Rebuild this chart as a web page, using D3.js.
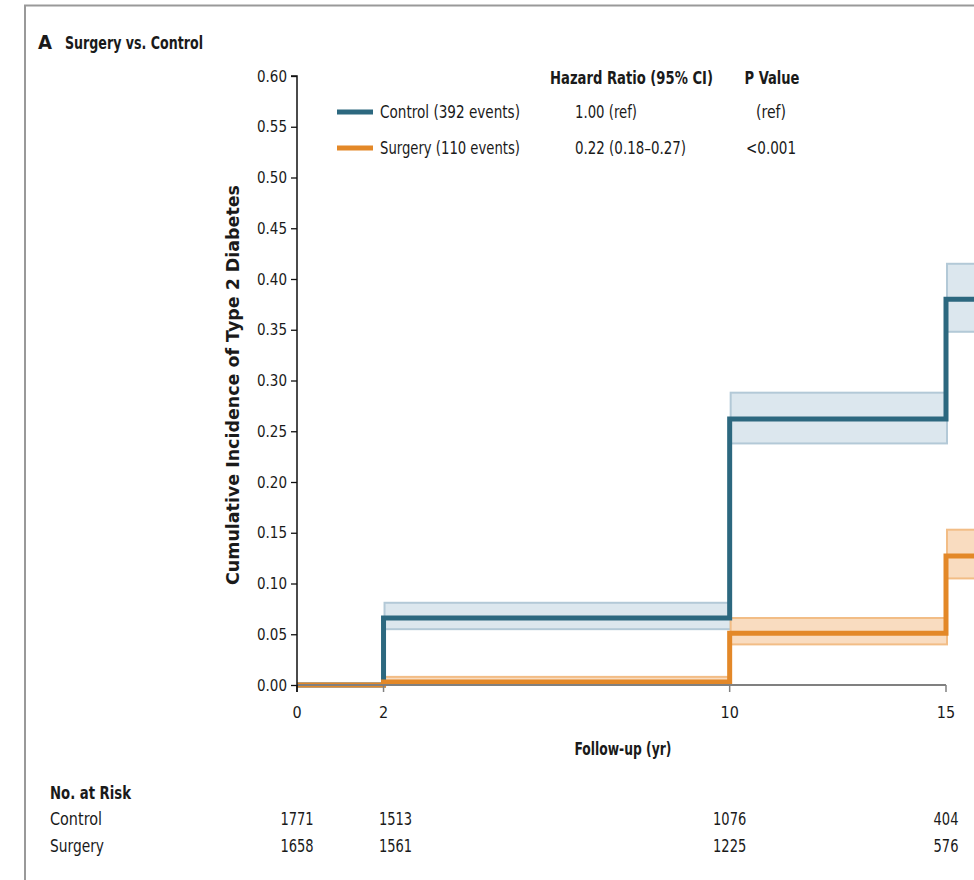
<!DOCTYPE html>
<html>
<head>
<meta charset="utf-8">
<script src="https://cdn.jsdelivr.net/npm/d3@7"></script>
<style>
  body { margin: 0; background: #fff; }
  svg text { font-family: "DejaVu Sans Condensed", "Liberation Sans", sans-serif; fill: #1a1a1a; }
</style>
</head>
<body>
<div id="graph"></div>
<script>
/*******************************************************************************
* Data
*******************************************************************************/
var stepTimes = [0, 2, 10, 15];
var endTime = 15.7;

var controlEst = [0, 0.066, 0.262, 0.380];
var controlLo  = [0, 0.055, 0.238, 0.348];
var controlHi  = [0, 0.081, 0.288, 0.415];

var surgeryEst = [0, 0.003, 0.051, 0.127];
var surgeryLo  = [0, 0.000, 0.040, 0.105];
var surgeryHi  = [0, 0.008, 0.066, 0.153];

var xTicks = [0, 2, 10, 15];
var yTicks = [0, 0.05, 0.10, 0.15, 0.20, 0.25, 0.30, 0.35, 0.40, 0.45, 0.50, 0.55, 0.60];

var riskGroups = ["Control", "Surgery"];
var riskControl = [1771, 1513, 1076, 404];
var riskSurgery = [1658, 1561, 1225, 576];

var legendNames = ["Control (392 events)", "Surgery (110 events)"];
var legendHR = ["1.00 (ref)", "0.22 (0.18\u20130.27)"];
var legendP = ["(ref)", "<0.001"];

/*******************************************************************************
* helpers
*******************************************************************************/
// squeeze a label to the narrow width of the original condensed face
function fit(sel, w) {
  return sel.attr("textLength", w).attr("lengthAdjust", "spacingAndGlyphs");
}
function label(parent, txt, px, py, size, bold, anchor) {
  return parent.append("text").attr("x", px).attr("y", py)
    .attr("text-anchor", anchor || "start")
    .style("font-size", size + "px")
    .style("font-weight", bold ? "bold" : "normal")
    .text(txt);
}

/*******************************************************************************
* Svg Container
*******************************************************************************/
var fullWidth = 974, fullHeight = 880;
var container = d3.select("#graph").append("svg")
  .attr("width", fullWidth)
  .attr("height", fullHeight);

// outer frame (cut at right and bottom)
container.append("path")
  .attr("d", "M25,880V5.5H974")
  .attr("fill", "none")
  .attr("stroke", "#999")
  .attr("stroke-width", 2);

fit(label(container, "A", 38, 49, 19, true), 14);
fit(label(container, "Surgery vs. Control", 65, 49, 18, true), 138);

var x = d3.scaleLinear().domain([0, 15]).range([297, 946]);
var y = d3.scaleLinear().domain([0, 0.6]).range([685, 76]);

var colors = { control: "#2c687f", surgery: "#e38828" };
var bandFill = { control: "#dce7ee", surgery: "#f9dcc0" };
var bandStroke = { control: "#b3c9d7", surgery: "#f2bd86" };

var plot = container.append("g");

/*******************************************************************************
* CI bands
*******************************************************************************/
function bandData(lo, hi) {
  var out = [];
  for (var i = 1; i < stepTimes.length; i++) {
    var t1 = i + 1 < stepTimes.length ? stepTimes[i + 1] : endTime;
    out.push({ t0: stepTimes[i], t1: t1, lo: lo[i], hi: hi[i] });
  }
  return out;
}

function drawBands(key, lo, hi) {
  plot.append("g").selectAll("rect")
    .data(bandData(lo, hi))
    .enter()
    .append("rect")
    .attr("x", function (d) { return x(d.t0) + 1; })
    .attr("y", function (d) { return y(d.hi); })
    .attr("width", function (d) { return x(d.t1) - x(d.t0); })
    .attr("height", function (d) { return Math.max(1, y(d.lo) - y(d.hi)); })
    .style("fill", bandFill[key])
    .style("stroke", bandStroke[key])
    .style("stroke-width", 2);
}
drawBands("control", controlLo, controlHi);
drawBands("surgery", surgeryLo, surgeryHi);

/*******************************************************************************
* axes
*******************************************************************************/
var xAxisG = container.append("g").attr("transform", "translate(0," + y(0) + ")");
xAxisG.append("line").attr("x1", x(0)).attr("x2", x(15)).attr("stroke", "#808080").attr("stroke-width", 2);
xAxisG.selectAll(".xt").data(xTicks).enter().append("line")
  .attr("x1", function (d) { return x(d); }).attr("x2", function (d) { return x(d); })
  .attr("y1", 0).attr("y2", 7)
  .attr("stroke", function (d) { return d === 0 ? "#222" : "#808080"; })
  .attr("stroke-width", 1.5);
xAxisG.selectAll(".xl").data(xTicks).enter().append("text")
  .attr("x", function (d) { return x(d); }).attr("y", 33)
  .attr("text-anchor", "middle").style("font-size", "16px")
  .text(function (d) { return d; });

var yAxis = d3.axisLeft(y).tickValues(yTicks).tickSize(6).tickPadding(4)
  .tickFormat(d3.format(".2f"));
var yAxisG = container.append("g").attr("transform", "translate(" + x(0) + ",0)").call(yAxis);
yAxisG.select(".domain").attr("stroke", "#111").attr("stroke-width", 1.5)
  .attr("d", "M-6," + y(0.6) + "H0V" + (y(0) + 7));
yAxisG.selectAll(".tick line").attr("stroke", "#111").attr("stroke-width", 1.3);
yAxisG.selectAll(".tick text").style("font-size", "16px").attr("fill", "#1a1a1a")
  .style("font-family", "\"DejaVu Sans Condensed\", sans-serif")
  .attr("textLength", 30).attr("lengthAdjust", "spacingAndGlyphs");

container.append("text")
  .attr("transform", "translate(239,385) rotate(-90)")
  .attr("text-anchor", "middle")
  .style("font-family", "\"DejaVu Sans\", sans-serif")
  .style("font-size", "17px").style("font-weight", "bold")
  .attr("textLength", 400).attr("lengthAdjust", "spacingAndGlyphs")
  .text("Cumulative Incidence of Type 2 Diabetes");

fit(label(container, "Follow-up (yr)", 623, 755, 17, true, "middle"), 97);

/*******************************************************************************
* step lines
*******************************************************************************/
function stepPoints(est) {
  var pts = stepTimes.map(function (t, i) { return [t, est[i]]; });
  pts.push([endTime, est[est.length - 1]]);
  return pts;
}
var line = d3.line()
  .x(function (d) { return x(d[0]); })
  .y(function (d) { return y(d[1]); })
  .curve(d3.curveStepAfter);

plot.append("path").datum(stepPoints(controlEst))
  .attr("d", line).attr("fill", "none")
  .attr("stroke", colors.control).attr("stroke-width", 5);
plot.append("path").datum(stepPoints(surgeryEst))
  .attr("d", line).attr("fill", "none")
  .attr("stroke", colors.surgery).attr("stroke-width", 5);

/*******************************************************************************
* legend
*******************************************************************************/
var legend = container.append("g");
fit(label(legend, "Hazard Ratio (95% CI)", 550, 84, 17, true), 163);
fit(label(legend, "P Value", 772, 84, 17, true, "middle"), 55);

var rowWidths = { name: [140, 140], hr: [62, 111], p: [30, 50] };
var rows = legend.selectAll(".row").data(["control", "surgery"]).enter().append("g")
  .attr("transform", function (d, i) { return "translate(0," + (112 + i * 36) + ")"; });
rows.append("line").attr("x1", 337).attr("x2", 373).attr("y1", 0).attr("y2", 0)
  .attr("stroke", function (d) { return colors[d]; }).attr("stroke-width", 5);
rows.each(function (d, i) {
  var g = d3.select(this);
  fit(label(g, legendNames[i], 380, 6, 17, false), rowWidths.name[i]);
  fit(label(g, legendHR[i], 575, 6, 17, false), rowWidths.hr[i]);
  fit(label(g, legendP[i], 771, 6, 17, false, "middle"), rowWidths.p[i]);
});

/*******************************************************************************
* number at risk
*******************************************************************************/
var risk = container.append("g");
fit(label(risk, "No. at Risk", 50, 799, 17, true), 81);
[riskControl, riskSurgery].forEach(function (vals, r) {
  var yy = 825 + r * 27;
  fit(label(risk, riskGroups[r], 50, yy, 17, false), r === 0 ? 52 : 54);
  risk.selectAll(".n" + r).data(vals).enter().append("text")
    .attr("x", function (d, i) { return x(xTicks[i]) + (i === 1 ? 12 : 0); })
    .attr("y", yy).attr("text-anchor", "middle").style("font-size", "17px")
    .attr("textLength", function (d) { return String(d).length * 8.3; })
    .attr("lengthAdjust", "spacingAndGlyphs")
    .text(function (d) { return d; });
});
</script>
</body>
</html>
